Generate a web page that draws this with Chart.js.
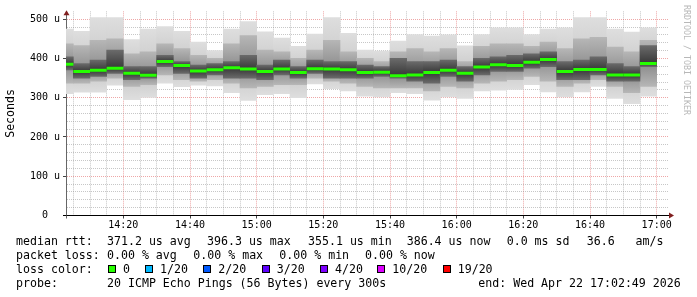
<!DOCTYPE html>
<html>
<head>
<meta charset="utf-8">
<script src="https://cdn.jsdelivr.net/npm/chart.js@4.4.1/dist/chart.umd.min.js"></script>
<style>
  html, body { margin: 0; padding: 0; background: #fff; }
  #wrap { position: relative; width: 697px; height: 297px; overflow: hidden; }
  #chart { position: absolute; left: 0; top: 0; }
  .t { position: absolute; font: 11.6px "DejaVu Sans Mono", monospace; line-height: 14px; color: #000; white-space: pre; }
  .sq { position: absolute; top: 265px; width: 6px; height: 6px; border: 1px solid #000; }
  #mark { position: absolute; left: 682px; top: 5px; font: 8.3px "DejaVu Sans Mono", monospace; color: #b8b8b8; writing-mode: vertical-rl; white-space: pre; }
</style>
</head>
<body>
<div id="wrap">
  <canvas id="chart" width="697" height="297"></canvas>
  <div id="mark">RRDTOOL / TOBI OETIKER</div>

  <span class="t" style="left:16px;top:234px">median rtt:</span>
  <span class="t" style="left:107px;top:234px">371.2 us avg</span>
  <span class="t" style="left:207px;top:234px">396.3 us max</span>
  <span class="t" style="left:308px;top:234px">355.1 us min</span>
  <span class="t" style="left:406.7px;top:234px">386.4 us now</span>
  <span class="t" style="left:506.7px;top:234px">0.0 ms sd</span>
  <span class="t" style="left:586.7px;top:234px">36.6   am/s</span>

  <span class="t" style="left:16px;top:248px">packet loss:</span>
  <span class="t" style="left:107px;top:248px">0.00 % avg</span>
  <span class="t" style="left:193.3px;top:248px">0.00 % max</span>
  <span class="t" style="left:279.3px;top:248px">0.00 % min</span>
  <span class="t" style="left:365px;top:248px">0.00 % now</span>

  <span class="t" style="left:16px;top:262px">loss color:</span>
  <div id="lossLegend"></div>

  <span class="t" style="left:16px;top:276px">probe:</span>
  <span class="t" style="left:107px;top:276px">20 ICMP Echo Pings (56 Bytes) every 300s</span>
  <span class="t" style="left:478.3px;top:276px">end: Wed Apr 22 17:02:49 2026</span>
</div>

<script>
// end of each 5 minute step
const times = [
  "14:05","14:10","14:15","14:20","14:25","14:30","14:35","14:40","14:45","14:50",
  "14:55","15:00","15:05","15:10","15:15","15:20","15:25","15:30","15:35","15:40",
  "15:45","15:50","15:55","16:00","16:05","16:10","16:15","16:20","16:25","16:30",
  "16:35","16:40","16:45","16:50","16:55","17:00"
];

// values in microseconds
const median = [
  385, 367, 370, 375, 362, 357, 392, 382, 368, 371,
  376, 373, 367, 373, 364, 374, 373, 371, 364, 365,
  356, 358, 364, 370, 362, 378, 384, 382, 390, 397,
  367, 372, 372, 358, 358, 387
];
const pingMin = [
  310, 314, 314, 332, 295, 301, 337, 328, 332, 330,
  313, 293, 308, 310, 300, 335, 323, 317, 304, 302,
  313, 310, 294, 302, 298, 317, 319, 321, 333, 315,
  302, 315, 329, 298, 285, 304
];
const pingMax = [
  475, 469, 504, 504, 448, 475, 481, 469, 442, 420,
  475, 494, 468, 452, 431, 462, 504, 464, 421, 419,
  444, 461, 457, 460, 432, 461, 478, 478, 461, 475,
  478, 504, 504, 475, 467, 478
];
const upperQ = [
  437, 433, 446, 450, 412, 417, 437, 425, 408, 400,
  437, 458, 421, 417, 400, 421, 446, 417, 400, 392,
  417, 425, 417, 425, 392, 431, 437, 437, 431, 442,
  425, 450, 454, 429, 417, 446
];
const lowerQ = [
  337, 337, 342, 350, 329, 333, 358, 346, 342, 346,
  337, 325, 329, 333, 333, 350, 342, 337, 329, 325,
  325, 325, 317, 329, 325, 337, 342, 346, 354, 342,
  329, 337, 346, 329, 313, 329
];
const innerHi = [
  404, 387, 396, 421, 379, 379, 408, 392, 383, 387,
  392, 408, 383, 396, 379, 396, 392, 392, 383, 379,
  400, 392, 392, 396, 379, 400, 404, 408, 412, 417,
  392, 396, 404, 387, 379, 433
];
const innerLo = [
  371, 350, 354, 362, 346, 350, 379, 362, 350, 358,
  350, 350, 346, 358, 350, 362, 350, 350, 350, 354,
  350, 342, 337, 354, 342, 358, 367, 367, 375, 379,
  346, 346, 358, 342, 342, 379
];

const yLabels = [0, 100, 200, 300, 400, 500];
const xLabels = ["14:20","14:40","15:00","15:20","15:40","16:00","16:20","16:40","17:00"];

const lossLabels = ["0", "1/20", "2/20", "3/20", "4/20", "10/20", "19/20"];
const lossColors = ["#26ff00", "#00b8ff", "#0059ff", "#5e00ff", "#7e00ff", "#dd00ff", "#ff0000"];
const lossX = [108, 145, 203.3, 261.7, 320, 377.3, 442.7];

const STEP = 5;
const toMin = (s) => { const [h, m] = s.split(":").map(Number); return (h - 14) * 60 + m; };
const slotX = (t) => toMin(t) - STEP / 2;

// loss color legend
const lossBox = document.getElementById("lossLegend");
lossLabels.forEach((lbl, i) => {
  const sq = document.createElement("div");
  sq.className = "sq";
  sq.style.left = lossX[i] + "px";
  sq.style.background = lossColors[i];
  lossBox.appendChild(sq);
  const tx = document.createElement("span");
  tx.className = "t";
  tx.style.left = (lossX[i] + 15) + "px";
  tx.style.top = "262px";
  tx.textContent = lbl;
  lossBox.appendChild(tx);
});

// gray shade that gets darker towards the median of the step
function smokeFill(edge, center) {
  return (c) => {
    const raw = c.raw;
    const y = c.chart.scales.y;
    if (!raw || !y || !Array.isArray(raw.y)) return edge;
    const top = y.getPixelForValue(raw.y[1]);
    const bottom = y.getPixelForValue(raw.y[0]);
    if (!isFinite(top) || !isFinite(bottom) || bottom - top < 1) return edge;
    const mid = y.getPixelForValue(median[c.dataIndex]);
    const stop = Math.min(0.95, Math.max(0.05, (mid - top) / (bottom - top)));
    const g = c.chart.ctx.createLinearGradient(0, top, 0, bottom);
    g.addColorStop(0, edge);
    g.addColorStop(stop, center);
    g.addColorStop(1, edge);
    return g;
  };
}

function smokeLayer(lo, hi, edge, center, order) {
  return {
    type: "bar",
    data: times.map((t, i) => ({ x: slotX(t), y: [lo[i], hi[i]] })),
    backgroundColor: smokeFill(edge, center),
    borderWidth: 0,
    grouped: false,
    barPercentage: 1,
    categoryPercentage: 1,
    clip: 0,
    order: order
  };
}

const axisArrows = {
  id: "axisArrows",
  afterDraw(chart) {
    const { ctx, chartArea: a } = chart;
    const yx = Math.round(a.left) + 0.5;
    const xy = Math.round(a.bottom - 0.5) + 0.5;
    ctx.save();
    ctx.lineWidth = 1;
    ctx.strokeStyle = "#000";
    ctx.beginPath();
    ctx.moveTo(a.left - 3, xy);
    ctx.lineTo(a.right + 2, xy);
    ctx.stroke();
    ctx.strokeStyle = "#666";
    ctx.beginPath();
    ctx.moveTo(yx, xy);
    ctx.lineTo(yx, xy + 3);
    ctx.stroke();
    ctx.fillStyle = "#801f1f";
    ctx.beginPath();
    ctx.moveTo(a.right + 5, xy);
    ctx.lineTo(a.right, xy - 3);
    ctx.lineTo(a.right, xy + 3);
    ctx.closePath();
    ctx.fill();
    ctx.beginPath();
    ctx.moveTo(yx, a.top - 1);
    ctx.lineTo(yx - 3, a.top + 4);
    ctx.lineTo(yx + 3, a.top + 4);
    ctx.closePath();
    ctx.fill();
    ctx.restore();
  }
};

const monoFont = "'DejaVu Sans Mono', monospace";
const majorGrid = "rgba(222, 79, 79, 0.5)";
const minorGrid = "rgba(143, 143, 143, 0.5)";

new Chart(document.getElementById("chart"), {
  type: "bar",
  data: {
    datasets: [
      {
        type: "line",
        data: times.map((t, i) => ({ x: slotX(t), y: median[i] })),
        showLine: false,
        pointStyle: "line",
        pointRadius: 8.33,
        pointHoverRadius: 8.33,
        pointBorderWidth: 3,
        pointBorderColor: "#26ff00",
        pointBackgroundColor: "#26ff00",
        clip: 0,
        order: 0
      },
      smokeLayer(innerLo, innerHi, "#6a6a6a", "#383838", 1),
      smokeLayer(lowerQ, upperQ, "#b6b6b6", "#8a8a8a", 2),
      smokeLayer(pingMin, pingMax, "#dedede", "#c6c6c6", 3)
    ]
  },
  options: {
    responsive: false,
    animation: false,
    events: [],
    layout: { padding: { left: 0, top: 9, right: 28, bottom: 0 } },
    plugins: {
      legend: { display: false },
      tooltip: { enabled: false }
    },
    scales: {
      x: {
        type: "linear",
        z: 1,
        min: 2.8,
        max: 183.7,
        offset: false,
        afterFit: (s) => { s.height = 297 - 215.5; },
        afterBuildTicks: (s) => {
          const ticks = [];
          for (let v = STEP; v <= 180; v += STEP) ticks.push({ value: v });
          s.ticks = ticks;
        },
        ticks: {
          autoSkip: false,
          maxRotation: 0,
          padding: 1,
          color: "#000",
          font: { family: monoFont, size: 10 },
          callback: (v) => xLabels.find((l) => toMin(l) === v) || ""
        },
        grid: {
          offset: false,
          color: (c) => (c.tick && c.tick.value % 20 === 0 ? majorGrid : minorGrid),
          tickLength: 3,
          tickColor: (c) => (c.tick && c.tick.value % 20 === 0 ? "#444" : "rgba(0,0,0,0)")
        },
        border: { color: "#000", width: 1, dash: [1, 1] }
      },
      y: {
        z: 1,
        min: 0,
        max: 520,
        afterFit: (s) => { s.width = 66; },
        afterBuildTicks: (s) => {
          const ticks = [];
          for (let v = 0; v <= 500; v += 20) ticks.push({ value: v });
          s.ticks = ticks;
        },
        ticks: {
          autoSkip: false,
          padding: 3,
          color: "#000",
          font: { family: monoFont, size: 10 },
          callback: (v) => (yLabels.includes(v) ? (v === 0 ? "0  " : v + " u") : "")
        },
        grid: {
          color: (c) => (c.tick && c.tick.value % 100 === 0 ? majorGrid : minorGrid),
          tickLength: 3,
          tickColor: (c) => (c.tick && c.tick.value % 100 === 0 ? "#444" : "rgba(0,0,0,0)")
        },
        border: { color: "#666", width: 1, dash: [1, 1] },
        title: {
          display: true,
          text: "Seconds",
          color: "#000",
          font: { family: monoFont, size: 11.6 },
          padding: { top: 4, bottom: 0 }
        }
      }
    }
  },
  plugins: [axisArrows]
});
</script>
</body>
</html>
